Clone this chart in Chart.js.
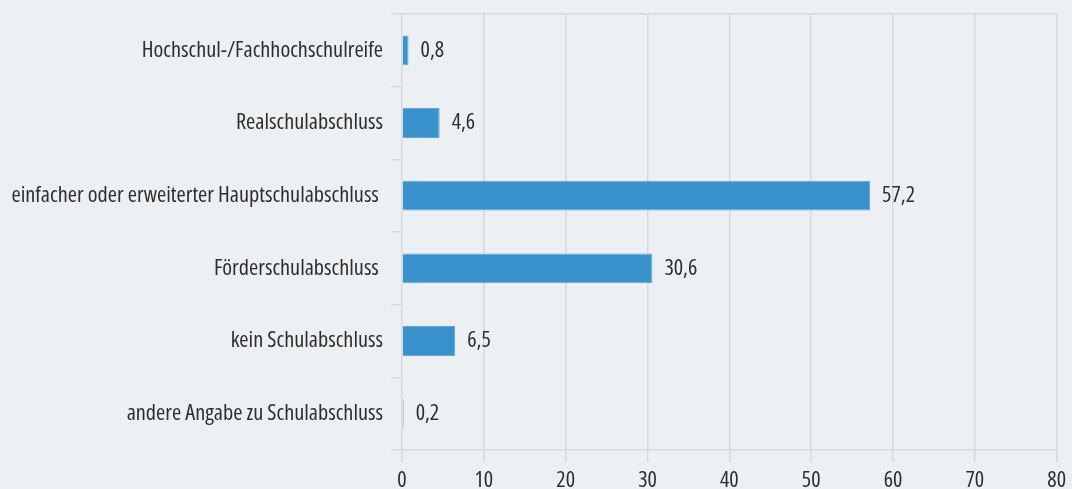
<!DOCTYPE html>
<html>
<head>
<meta charset="utf-8">
<script src="https://cdn.jsdelivr.net/npm/chart.js@4"></script>
<style>
html,body{margin:0;padding:0;background:#edf0f3;overflow:hidden;}
#wrap{position:relative;width:1072px;height:489px;}
</style>
</head>
<body>
<div id="wrap"><canvas id="c"></canvas></div>
<script>
const categories = [
  "Hochschul-/Fachhochschulreife",
  "Realschulabschluss",
  "einfacher oder erweiterter Hauptschulabschluss ",
  "Förderschulabschluss ",
  "kein Schulabschluss",
  "andere Angabe zu Schulabschluss"
];
const values = [0.8, 4.6, 57.2, 30.6, 6.5, 0.2];
const xTicks = [0, 10, 20, 30, 40, 50, 60, 70, 80];

const FONT = "'Open Sans', sans-serif";
const STRETCH = 'condensed';
const TEXT = '#2e2e2e';
const GRID = '#d6d9dc';

const valueLabels = {
  id: 'valueLabels',
  afterDatasetsDraw(chart) {
    const ctx = chart.ctx;
    const meta = chart.getDatasetMeta(0);
    ctx.save();
    ctx.font = STRETCH + ' 22px ' + FONT;
    ctx.fillStyle = TEXT;
    ctx.textAlign = 'left';
    ctx.textBaseline = 'middle';
    meta.data.forEach((bar, i) => {
      const txt = values[i].toFixed(1).replace('.', ',');
      ctx.fillText(txt, bar.x + 12, bar.y);
    });
    ctx.restore();
  }
};

new Chart(document.getElementById('c'), {
  type: 'bar',
  data: {
    labels: categories,
    datasets: [{
      data: values,
      backgroundColor: '#3a92cc',
      borderColor: '#5ea8da',
      borderWidth: 1,
      barPercentage: 0.41,
      categoryPercentage: 1.0
    }]
  },
  options: {
    indexAxis: 'y',
    responsive: true,
    maintainAspectRatio: false,
    animation: false,
    layout: { padding: { top: 14, right: 14, left: 0, bottom: 0 } },
    plugins: { legend: { display: false }, tooltip: { enabled: false } },
    scales: {
      x: {
        min: 0, max: 80,
        afterBuildTicks(scale) { scale.ticks = xTicks.map(v => ({ value: v })); },
        afterFit(scale) { scale.height = 39; },
        grid: { color: GRID, lineWidth: 1.5, tickLength: 12, tickColor: GRID },
        border: { color: GRID, width: 1.5 },
        ticks: { color: TEXT, font: { family: FONT, size: 22, weight: STRETCH }, padding: 6, maxRotation: 0 }
      },
      y: {
        afterFit(scale) { scale.width = 402; scale.paddingTop = 0; scale.paddingBottom = 0; },
        grid: {
          offset: true,
          color: (c) => (c.index === 0 || c.index === categories.length) ? GRID : 'rgba(0,0,0,0)',
          tickColor: GRID,
          lineWidth: 1.5,
          tickLength: 11
        },
        border: { display: false },
        ticks: { color: TEXT, font: { family: FONT, size: 22.3, weight: STRETCH }, padding: 8 }
      }
    }
  },
  plugins: [valueLabels]
});
</script>
</body>
</html>
